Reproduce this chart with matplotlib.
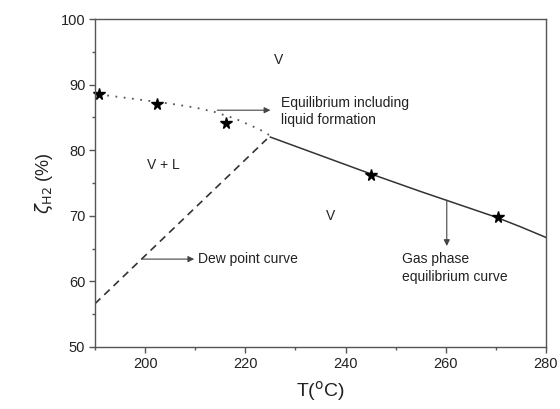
import matplotlib
matplotlib.use("Agg")
import matplotlib.pyplot as plt
from matplotlib.ticker import MultipleLocator

plt.rcParams.update({
    "font.family": ["Liberation Sans", "DejaVu Sans"],
    "font.size": 10,
    "axes.edgecolor": "#555555",
    "axes.linewidth": 1.0,
    "xtick.color": "#555555",
    "ytick.color": "#555555",
    "xtick.labelcolor": "#222222",
    "ytick.labelcolor": "#222222",
    "xtick.direction": "out",
    "ytick.direction": "out",
})

INK = "#222222"
LINE = "#333333"

# --- data ---
# equilibrium including liquid formation (dotted)
liq_T = [190.8, 195, 200, 205, 210, 214, 218, 221, 223, 224.8]
liq_y = [88.5, 88.1, 87.6, 87.1, 86.5, 85.8, 84.8, 83.8, 83.1, 82.3]

# gas phase equilibrium curve (solid)
gas_T = [225, 235, 245, 255, 260, 265, 270, 275, 280]
gas_y = [82.0, 79.2, 76.4, 73.7, 72.4, 71.1, 69.8, 68.3, 66.7]

# dew point curve (dashed)
dew_T = [190, 224.3]
dew_y = [56.6, 81.7]

# simulation points (stars)
star_T = [190.8, 202.3, 216.1, 245.0, 270.5]
star_y = [88.6, 87.1, 84.1, 76.2, 69.8]

fig = plt.figure(figsize=(5.6, 4.09), dpi=100)
ax = fig.add_axes([0.1696, 0.1516, 0.8054, 0.8019])

ax.plot(liq_T, liq_y, color="#555555", lw=1.3, ls=(0, (1, 3.6)))
ax.plot(gas_T, gas_y, color=LINE, lw=1.1)
ax.plot(dew_T, dew_y, color=LINE, lw=1.2, ls=(0, (4.5, 3.2)))
ax.plot(star_T, star_y, ls="none", marker="*", ms=8.5, color="black", clip_on=False)

arrow = dict(arrowstyle="-|>", color="#444444", lw=0.8, mutation_scale=9,
             shrinkA=0, shrinkB=0)
ax.annotate("", xy=(225, 86.1), xytext=(214.4, 86.1), arrowprops=arrow)
ax.annotate("", xy=(209.8, 63.4), xytext=(199.3, 63.4), arrowprops=arrow)
ax.annotate("", xy=(260.2, 65.4), xytext=(260.2, 72.4), arrowprops=arrow)

ax.text(227.1, 85.95, "Equilibrium including\nliquid formation", fontsize=10,
        color=INK, va="center", ha="left", linespacing=1.3)
ax.text(210.6, 63.4, "Dew point curve", fontsize=10, color=INK, va="center", ha="left")
ax.text(251.2, 62.05, "Gas phase\nequilibrium curve", fontsize=10, color=INK,
        va="center", ha="left", linespacing=1.3)

ax.text(226.6, 93.75, "V", fontsize=10, color=INK, ha="center", va="center")
ax.text(203.6, 77.7, "V + L", fontsize=10, color=INK, ha="center", va="center")
ax.text(237.0, 69.9, "V", fontsize=10, color=INK, ha="center", va="center")

ax.set_xlim(190, 280)
ax.set_ylim(50, 100)
ax.xaxis.set_major_locator(MultipleLocator(20))
ax.xaxis.set_minor_locator(MultipleLocator(10))
ax.yaxis.set_major_locator(MultipleLocator(10))
ax.yaxis.set_minor_locator(MultipleLocator(5))
ax.tick_params(which="major", length=4, width=1.0, labelsize=10.5, pad=3)
ax.tick_params(which="minor", length=2, width=1.0)

ax.set_xlabel("T($^{\\rm o}$C)", fontsize=14, color=INK, labelpad=6)
ax.set_ylabel("$\\zeta_{\\rm H2}$ (%)", fontsize=13, color=INK, labelpad=4)

fig.savefig("out.png", dpi=100)
